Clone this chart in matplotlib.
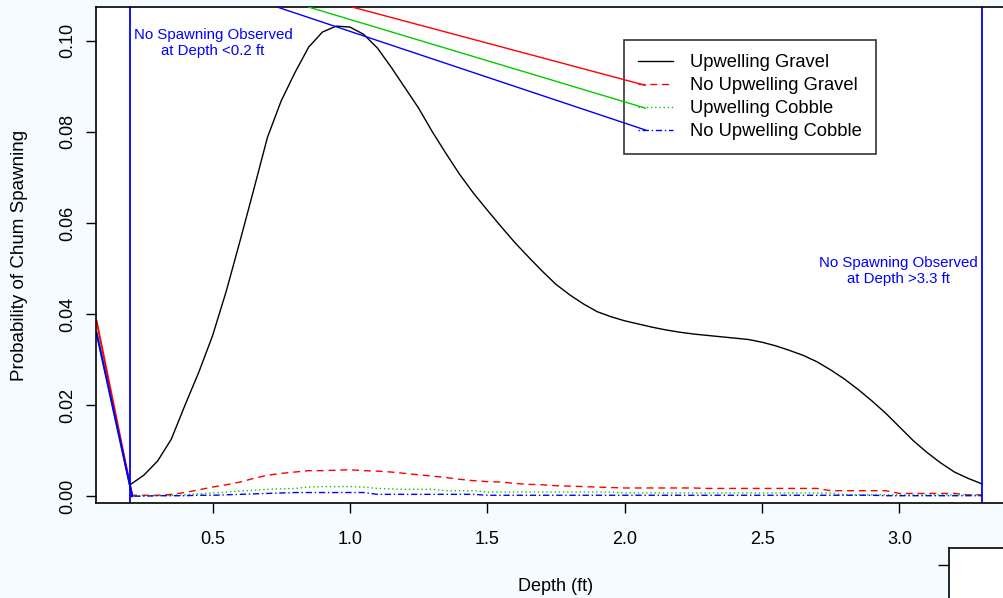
import matplotlib.pyplot as plt
import numpy as np

plt.rcParams['font.family'] = ['Liberation Sans', 'DejaVu Sans']

# depth grid (ft) shared by all four curves
depth = np.round(np.arange(0.20, 3.301, 0.05), 2)

upwelling_gravel = [
    0.0025, 0.0046, 0.0077, 0.0125, 0.0200, 0.0272, 0.0352, 0.0450, 0.0560, 0.0673,
    0.0788, 0.0868, 0.0930, 0.0986, 0.1019, 0.1032, 0.1030, 0.1014, 0.0984, 0.0942,
    0.0897, 0.0852, 0.0800, 0.0752, 0.0706, 0.0665, 0.0628, 0.0592, 0.0557, 0.0525,
    0.0494, 0.0465, 0.0442, 0.0422, 0.0405, 0.0394, 0.0385, 0.0378, 0.0371, 0.0365,
    0.0360, 0.0356, 0.0353, 0.0350, 0.0347, 0.0344, 0.0338, 0.0330, 0.0320, 0.0309,
    0.0295, 0.0277, 0.0257, 0.0234, 0.0209, 0.0182, 0.0152, 0.0122, 0.0096, 0.0073,
    0.0053, 0.0039, 0.0027]

no_upwelling_gravel = [
    0.0002, 0.0002, 0.0002, 0.0004, 0.0008, 0.0014, 0.0020, 0.0025, 0.0031, 0.0039,
    0.0046, 0.0050, 0.0053, 0.0056, 0.0056, 0.0057, 0.0058, 0.0056, 0.0055, 0.0053,
    0.0050, 0.0047, 0.0044, 0.0041, 0.0037, 0.0034, 0.0032, 0.0031, 0.0028, 0.0026,
    0.0025, 0.0023, 0.0022, 0.0021, 0.0020, 0.0019, 0.0018, 0.0018, 0.0018, 0.0018,
    0.0018, 0.0018, 0.0017, 0.0017, 0.0017, 0.0017, 0.0017, 0.0017, 0.0017, 0.0017,
    0.0017, 0.0012, 0.0012, 0.0012, 0.0012, 0.0012, 0.0006, 0.0006, 0.0006, 0.0006,
    0.0006, 0.0003, 0.0003]

upwelling_cobble = [
    0.0001, 0.0001, 0.0001, 0.0002, 0.0003, 0.0005, 0.0007, 0.0009, 0.0011, 0.0013,
    0.0015, 0.0016, 0.0017, 0.0020, 0.0021, 0.0021, 0.0021, 0.0020, 0.0017, 0.0016,
    0.0015, 0.0015, 0.0015, 0.0012, 0.0012, 0.0012, 0.0009, 0.0009, 0.0009, 0.0009,
    0.0009, 0.0009, 0.0009, 0.0009, 0.0009, 0.0009, 0.0007, 0.0007, 0.0007, 0.0007,
    0.0007, 0.0007, 0.0007, 0.0007, 0.0007, 0.0007, 0.0007, 0.0007, 0.0007, 0.0007,
    0.0007, 0.0007, 0.0003, 0.0003, 0.0003, 0.0003, 0.0003, 0.0003, 0.0003, 0.0003,
    0.0003, 0.0003, 0.0003]

no_upwelling_cobble = [
    0.0000, 0.0000, 0.0001, 0.0001, 0.0001, 0.0002, 0.0002, 0.0003, 0.0004, 0.0005,
    0.0006, 0.0007, 0.0008, 0.0008, 0.0008, 0.0008, 0.0008, 0.0008, 0.0004, 0.0004,
    0.0004, 0.0004, 0.0004, 0.0004, 0.0004, 0.0004, 0.0002, 0.0002, 0.0002, 0.0002,
    0.0002, 0.0002, 0.0002, 0.0002, 0.0002, 0.0002, 0.0002, 0.0002, 0.0002, 0.0002,
    0.0002, 0.0002, 0.0002, 0.0002, 0.0002, 0.0002, 0.0002, 0.0002, 0.0002, 0.0002,
    0.0002, 0.0002, 0.0002, 0.0002, 0.0002, 0.0001, 0.0001, 0.0001, 0.0001, 0.0001,
    0.0001, 0.0001, 0.0001]

labels = ["Upwelling Gravel", "No Upwelling Gravel", "Upwelling Cobble", "No Upwelling Cobble"]
colors = ["black", "red", "#00cc00", "blue"]
dashes = [(None, None), (5, 3.5), (1, 2), (1, 2, 4.5, 2)]

# solid connector lines running into the left edge and into the legend keys
left_x = [0.078, 0.208]
left_red = [0.0385, 0.0]
left_green = [0.0360, 0.0]
left_blue = [0.0358, 0.0]
key_x = [[1.008, 2.075], [0.849, 2.075], [0.735, 2.075]]
key_y = [[0.1074, 0.0902], [0.1074, 0.0852], [0.1074, 0.0804]]

xticks = [0.5, 1.0, 1.5, 2.0, 2.5, 3.0]
yticks = [0.00, 0.02, 0.04, 0.06, 0.08, 0.10]
min_depth, max_depth = 0.2, 3.3

fig = plt.figure(figsize=(10.04, 5.98), dpi=100, facecolor='#f5fbfe')
ax = fig.add_axes([96 / 1004, 95 / 598, 920 / 1004, 496 / 598])
ax.set_facecolor('white')

series = [upwelling_gravel, no_upwelling_gravel, upwelling_cobble, no_upwelling_cobble]
handles = []
for vals, lab, col, ds in zip(series, labels, colors, dashes):
    ln, = ax.plot(depth, vals, color=col, lw=1.0, label=lab)
    if ds[0] is not None:
        ln.set_dashes(ds)
    handles.append(ln)

for ly, col in zip([left_green, left_red, left_blue], ["#00cc00", "red", "blue"]):
    ax.plot(left_x, ly, color=col, lw=1.4)
for kx, ky, col in zip(key_x, key_y, ["red", "#00cc00", "blue"]):
    ax.plot(kx, ky, color=col, lw=1.0, zorder=6)

ax.axvline(min_depth, color='blue', lw=1.3)
ax.axvline(max_depth, color='blue', lw=1.3)
ax.text(0.502, 0.0995, "No Spawning Observed\nat Depth <0.2 ft", color='blue',
        fontsize=10.8, ha='center', va='center', linespacing=1.2)
ax.text(2.995, 0.0494, "No Spawning Observed\nat Depth >3.3 ft", color='blue',
        fontsize=10.8, ha='center', va='center', linespacing=1.2)

ax.set_xlim(0.076, 3.424)
ax.set_ylim(-0.0015, 0.1074)
ax.set_xticks(xticks)
ax.set_xticklabels(["0.5", "1.0", "1.5", "2.0", "2.5", "3.0"], fontsize=13)
ax.set_yticks(yticks)
ax.set_yticklabels(["0.00", "0.02", "0.04", "0.06", "0.08", "0.10"], fontsize=13,
                   rotation=90, va='center')
ax.tick_params(direction='out', length=7.5, width=1, pad=13)
ax.tick_params(axis='y', pad=7)
for s in ax.spines.values():
    s.set_linewidth(1.2)

ax.set_xlabel("Depth (ft)", fontsize=13, labelpad=21)
ax.set_ylabel("Probability of Chum Spawning", fontsize=13.5, labelpad=22)

leg = ax.legend(handles=handles, loc='upper left', bbox_to_anchor=(0.574, 0.933),
                borderaxespad=0, fancybox=False, edgecolor='black', facecolor='none',
                fontsize=13.2, handlelength=1.9, handletextpad=0.95, labelspacing=0.33,
                borderpad=0.75)
leg.get_frame().set_linewidth(1.2)

# corner of the neighbouring panel below
ax2 = fig.add_axes([949 / 1004, -0.2, 0.5, (598 - 548) / 598 + 0.2])
ax2.set_facecolor('white')
ax2.set_xticks([])
ax2.set_ylim(0, 1.0)
ax2.set_yticks([1 - (565 - 548) / (50 + 0.2 * 598)])
ax2.set_yticklabels([])
ax2.tick_params(direction='out', length=8, width=1)
for s in ax2.spines.values():
    s.set_linewidth(1.2)

fig.savefig("out.png", dpi=100, facecolor=fig.get_facecolor())
